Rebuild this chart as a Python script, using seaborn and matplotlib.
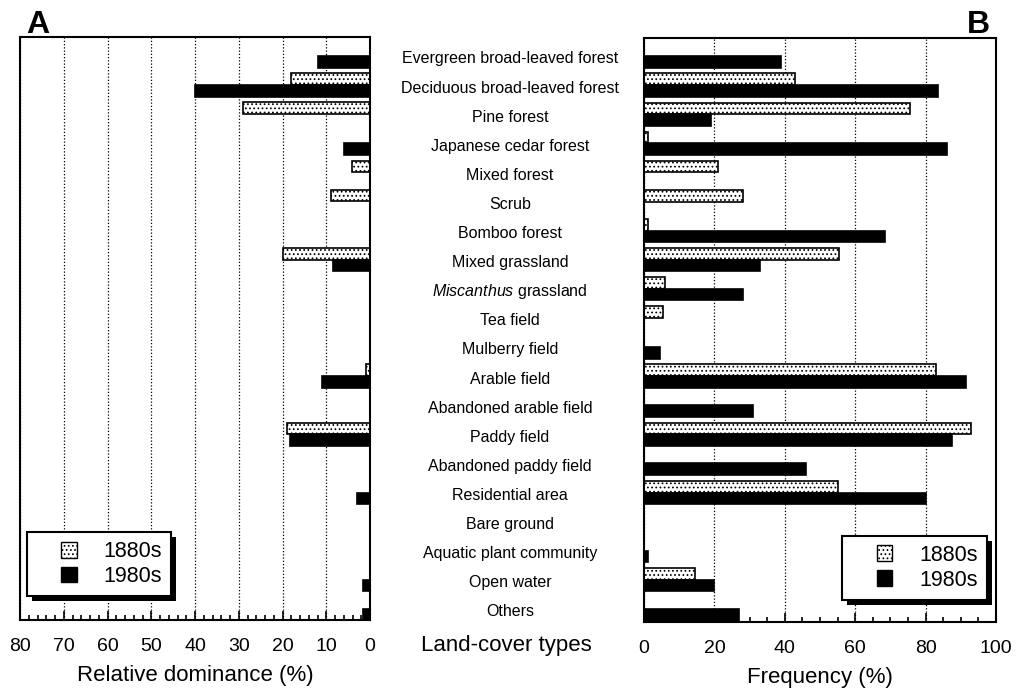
import numpy as np
import pandas as pd
import matplotlib
matplotlib.use("Agg")
import matplotlib.pyplot as plt
import matplotlib.transforms as mtrans
from matplotlib.patches import Patch, Rectangle
from matplotlib.legend_handler import HandlerPatch
from matplotlib.ticker import MultipleLocator
import seaborn as sns

# ---- data -----------------------------------------------------------------
categories = [
    "Evergreen broad-leaved forest",
    "Deciduous broad-leaved forest",
    "Pine forest",
    "Japanese cedar forest",
    "Mixed forest",
    "Scrub",
    "Bomboo forest",
    "Mixed grassland",
    r"$\mathit{Miscanthus}$ grassland",
    "Tea field",
    "Mulberry field",
    "Arable field",
    "Abandoned arable field",
    "Paddy field",
    "Abandoned paddy field",
    "Residential area",
    "Bare ground",
    "Aquatic plant community",
    "Open water",
    "Others",
]
periods = ["1880s", "1980s"]
nan = np.nan

# Relative dominance (%)
dominance_1880s = [nan, 18, 29, nan, 4.2, 9, nan, 20, nan, nan,
                   nan, 1, nan, 19, nan, nan, nan, nan, nan, nan]
dominance_1980s = [12, 40, nan, 6, nan, nan, nan, 8.5, nan, nan,
                   nan, 11, nan, 18.3, nan, 3, nan, nan, 1.5, 1.5]

# Frequency (%)
frequency_1880s = [nan, 43, 75.5, 1.2, 21, 28, 1, 55.5, 6, 5.5,
                   nan, 83, nan, 93, nan, 55, nan, nan, 14.5, nan]
frequency_1980s = [39, 83.5, 19, 86, nan, nan, 68.5, 33, 28, nan,
                   4.5, 91.5, 31, 87.5, 46, 80, nan, 1, 20, 27]

dominance_ticks = [80, 70, 60, 50, 40, 30, 20, 10, 0]
frequency_ticks = [0, 20, 40, 60, 80, 100]


def long_form(v_old, v_new):
    rows = []
    for cat, a, b in zip(categories, v_old, v_new):
        rows.append((cat, periods[0], a))
        rows.append((cat, periods[1], b))
    df = pd.DataFrame(rows, columns=["cover", "period", "value"])
    return df.dropna()


# ---- style ----------------------------------------------------------------
sns.set_theme(style="white")
plt.rcParams["font.family"] = ["Liberation Sans", "DejaVu Sans"]
plt.rcParams["mathtext.fontset"] = "custom"
plt.rcParams["mathtext.rm"] = "Liberation Sans"
plt.rcParams["mathtext.it"] = "Liberation Sans:italic"
plt.rcParams["hatch.linewidth"] = 0.75
plt.rcParams["hatch.color"] = "black"
plt.rcParams["text.color"] = "black"
plt.rcParams["axes.labelcolor"] = "black"
plt.rcParams["xtick.color"] = "black"
plt.rcParams["xtick.labelcolor"] = "black"

DOTS = "...."
palette = {"1880s": "white", "1980s": "black"}

W, H = 1019, 692
fig = plt.figure(figsize=(W / 100, H / 100), dpi=100)
fig.patch.set_facecolor("white")
axA = fig.add_axes([20 / W, 1 - 620 / H, 350 / W, 583 / H])
axB = fig.add_axes([644 / W, 1 - 622 / H, 352 / W, 584 / H])


class SquareAtRight(HandlerPatch):
    """Legend key drawn as a small square at the right end of the handle box."""

    def create_artists(self, legend, orig_handle, xdescent, ydescent,
                       width, height, fontsize, trans):
        side = height * 1.05
        p = Rectangle((width - side - xdescent,
                       -ydescent + (height - side) / 2), side, side)
        self.update_prop(p, orig_handle, legend)
        p.set_transform(trans)
        return [p]


def draw_panel(ax, df, xlim, major, minor, ticks, ylim):
    sns.barplot(data=df, y="cover", x="value", hue="period",
                order=categories, hue_order=periods, palette=palette,
                orient="h", width=0.8, edgecolor="black", linewidth=1.2,
                saturation=1, legend=False, ax=ax)
    for bar in ax.containers[0]:
        bar.set_facecolor("white")
        bar.set_hatch(DOTS)
    ax.set_xlim(*xlim)
    ax.set_ylim(*ylim)
    ax.xaxis.set_major_locator(MultipleLocator(major))
    ax.xaxis.set_minor_locator(MultipleLocator(minor))
    ax.set_xticks(ticks)
    ax.set_xticklabels([str(t) for t in ticks])
    ax.tick_params(axis="x", which="both", direction="in", bottom=True,
                   top=False, colors="black", width=1.2, labelsize=14, pad=13)
    ax.tick_params(axis="x", which="major", length=6.5)
    ax.tick_params(axis="x", which="minor", length=3.5)
    ax.tick_params(axis="y", left=False, right=False, labelleft=False)
    ax.set_ylabel("")
    ax.xaxis.grid(True, which="major", color="black",
                  linestyle=(0, (1, 1.6)), linewidth=0.9)
    ax.yaxis.grid(False)
    ax.set_axisbelow(True)
    for s in ax.spines.values():
        s.set_visible(True)
        s.set_color("black")
        s.set_linewidth(1.5)


draw_panel(axA, long_form(dominance_1880s, dominance_1980s),
           (80, 0), 10, 2, dominance_ticks, (19.38, -0.65))
draw_panel(axB, long_form(frequency_1880s, frequency_1980s),
           (0, 100), 20, 5, frequency_ticks, (19.45, -0.62))

axA.set_xlabel("Relative dominance (%)", fontsize=16, color="black")
axB.set_xlabel("Frequency (%)", fontsize=16, color="black")
for ax in (axA, axB):
    ax.xaxis.label.set_va("center")
axA.xaxis.set_label_coords(0.5, -(676 - 620) / 583)
axB.xaxis.set_label_coords(0.5, -(678 - 622) / 584)

# Land-cover type names between the panels, aligned with the bar rows
row_trans = mtrans.blended_transform_factory(fig.transFigure, axB.transData)
for i, name in enumerate(categories):
    fig.text(510 / W, i + 0.1, name, transform=row_trans,
             ha="center", va="center", fontsize=11.5, color="black")
fig.text(506 / W, 1 - 646 / H, "Land-cover types", ha="center",
         va="center", fontsize=16, color="black")

# Panel letters
fig.text(26 / W, 1 - 33 / H, "A", fontsize=23, fontweight="bold",
         ha="left", va="baseline", color="black")
fig.text(990 / W, 1 - 33 / H, "B", fontsize=23, fontweight="bold",
         ha="right", va="baseline", color="black")

# Legends with a solid drop shadow
handles = [Patch(facecolor="white", edgecolor="black", hatch=DOTS, linewidth=1),
           Patch(facecolor="black", edgecolor="black", linewidth=1)]
legend_kw = dict(handler_map={Patch: SquareAtRight()}, frameon=True,
                 fancybox=False, framealpha=1, edgecolor="black",
                 fontsize=15.5, handlelength=1.9, handletextpad=1.25,
                 borderpad=0.42, labelspacing=0.18, borderaxespad=0)
legA = axA.legend(handles, periods, loc="lower left",
                  bbox_to_anchor=(0.02, 0.041), **legend_kw)
legB = axB.legend(handles, periods, loc="lower right",
                  bbox_to_anchor=(0.974, 0.038), **legend_kw)
for leg in (legA, legB):
    leg.get_frame().set_linewidth(1.5)
    for t in leg.get_texts():
        t.set_color("black")

fig.canvas.draw()
inv = fig.transFigure.inverted()
for ax, leg in ((axA, legA), (axB, legB)):
    bb = leg.get_frame().get_window_extent()
    (x0, y0), (x1, y1) = inv.transform([[bb.x0 + 5, bb.y0 - 5],
                                        [bb.x1 + 5, bb.y1 - 5]])
    shadow = Rectangle((x0, y0), x1 - x0, y1 - y0, transform=fig.transFigure,
                       facecolor="black", edgecolor="none", clip_on=False,
                       zorder=leg.get_zorder() - 0.1)
    ax.add_artist(shadow)

fig.savefig("out.png", dpi=100)
